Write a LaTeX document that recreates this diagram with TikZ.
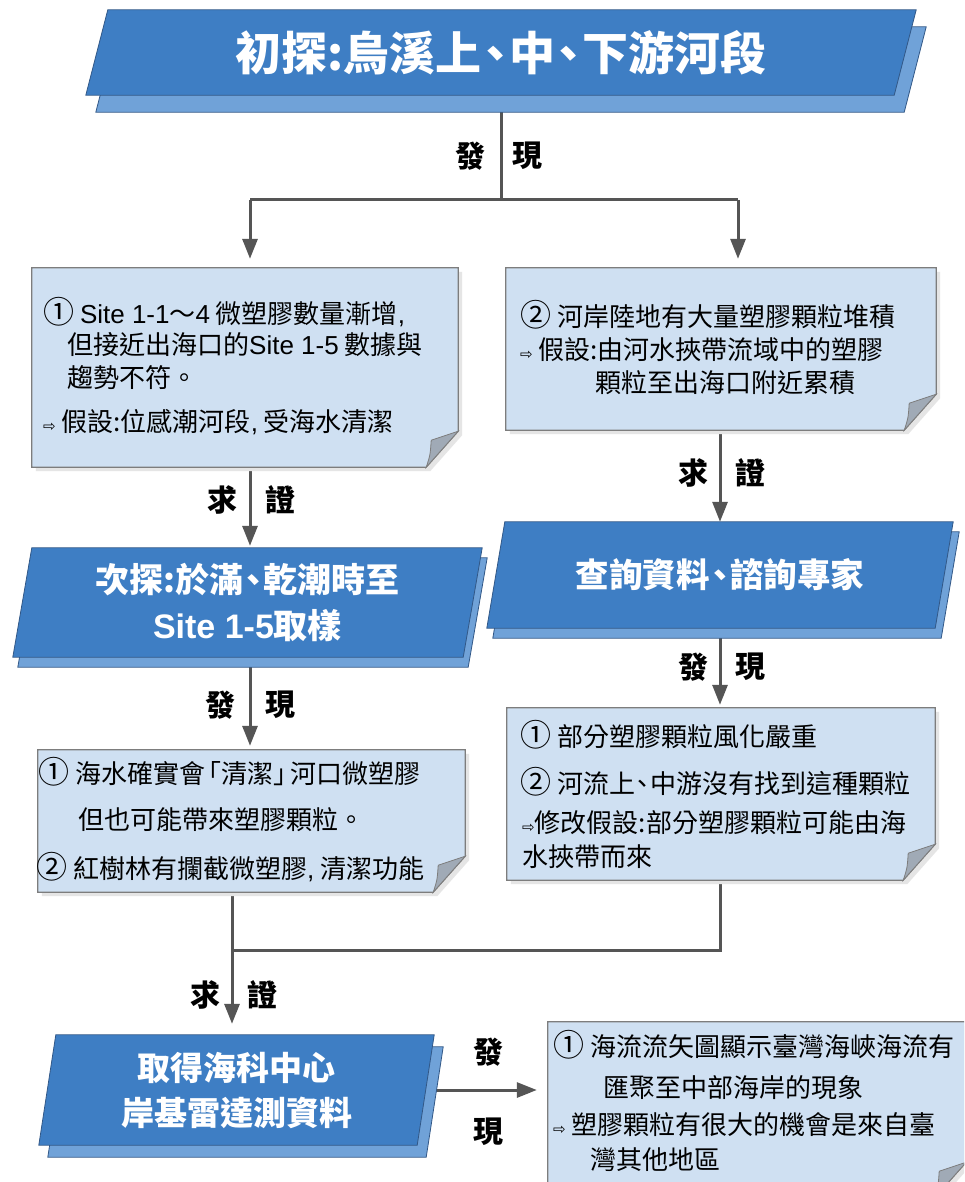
\documentclass[tikz,border=0pt]{standalone}
\usepackage{fontspec}
\setmainfont{Noto Sans CJK TC}
\newfontfamily\lat{Liberation Sans}
\newfontfamily\djv{DejaVu Sans}
\usetikzlibrary{arrows.meta,calc}
\pgfdeclarelayer{bg}\pgfdeclarelayer{shp}
\pgfsetlayers{bg,shp,main}
\definecolor{bannerblue}{RGB}{62,126,196}
\definecolor{bannershade}{RGB}{112,162,216}
\definecolor{bannerline}{RGB}{50,88,135}
\definecolor{notefill}{RGB}{207,224,242}
\definecolor{noteline}{RGB}{125,125,125}
\definecolor{arrowgray}{RGB}{85,85,85}
\definecolor{foldgray}{RGB}{160,170,182}
\newcommand\hint{{\djv\fontsize{15pt}{15pt}\selectfont ⇨}}
\newcommand\cnum[1]{{\fontsize{31pt}{30pt}\selectfont #1}}
\newcommand\dun{\kern-0.2em、\kern-0.2em}
\newcommand\bannerbg[4]{%
\begin{pgfonlayer}{shp}
\path[bshade] ($(#1.north west)+(#2/2+#3,#4)$) -- ($(#1.north east)+(#2/2+#3,#4)$) -- ($(#1.south east)+(-#2/2+#3,#4)$) -- ($(#1.south west)+(-#2/2+#3,#4)$) -- cycle;
\path[bmain] ($(#1.north west)+(#2/2,0)$) -- ($(#1.north east)+(#2/2,0)$) -- ($(#1.south east)+(-#2/2,0)$) -- ($(#1.south west)+(-#2/2,0)$) -- cycle;
\end{pgfonlayer}}
\newcommand\notebg[1]{%
\begin{pgfonlayer}{shp}
\begin{scope}
\clip (0,0) rectangle (964,1182);
\path[nshadow] ($(#1.north west)+(4,4)$) -- ($(#1.north east)+(4,4)$) -- ($(#1.south east)+(4,-32)$) -- ($(#1.south east)+(-28,4)$) -- ($(#1.south west)+(4,4)$) -- cycle;
\path[nbox] (#1.north west) -- (#1.north east) -- ($(#1.south east)+(0,-36)$) -- ($(#1.south east)+(-32,0)$) -- (#1.south west) -- cycle;
\path[nfold] ($(#1.south east)+(-32,0)$) .. controls ($(#1.south east)+(-28,-12)$) .. ($(#1.south east)+(-27,-27)$) -- ($(#1.south east)+(0,-36)$) -- cycle;
\end{scope}
\end{pgfonlayer}}
\begin{document}
\begin{tikzpicture}[x=1pt,y=-1pt,
  banner/.style={inner sep=0pt, align=center, text=white, font=\bfseries\fontsize{34pt}{46pt}\selectfont},
  hole/.style={inner sep=0pt, draw=none},
  nt/.style={anchor=west, inner sep=0pt, font=\fontsize{26pt}{30pt}\selectfont},
  lbl/.style={inner sep=0pt, font=\bfseries\fontsize{30pt}{30pt}\selectfont},
  conn/.style={draw=arrowgray, line width=3pt},
  arr/.style={conn, -{Triangle[length=20pt,width=15pt]}},
  bmain/.style={fill=bannerblue, draw=bannerline, line width=0.8pt},
  bshade/.style={fill=bannershade, draw=bannerline, line width=0.8pt},
  nbox/.style={fill=notefill, draw=noteline, line width=1.2pt},
  nfold/.style={fill=foldgray, draw=noteline, line width=0.8pt},
  nshadow/.style={fill=black!10}]
\useasboundingbox (0,0) rectangle (964,1182);
\begin{pgfonlayer}{bg}
\fill[white] (0,0) rectangle (964,1182);
\end{pgfonlayer}

% banners
\node[banner, font=\bfseries\fontsize{46pt}{48pt}\selectfont, minimum width=808pt, minimum height=85pt] (b1) at (501,52.5) {初探:烏溪上\dun 中\dun 下游河段};
\bannerbg{b1}{22}{10}{17}
\node[banner, minimum width=450pt, minimum height=109pt] (b2) at (247.5,602.5) {次探:於滿\dun 乾潮時至\\{\lat Site 1-5}取樣};
\bannerbg{b2}{19}{5}{10}
\node[banner, font=\bfseries\fontsize{33.5pt}{46pt}\selectfont, minimum width=448pt, minimum height=106pt] (b3) at (720,575) {查詢資料\dun 諮詢專家};
\bannerbg{b3}{18}{6}{10}
\node[banner, font=\bfseries\fontsize{33pt}{45pt}\selectfont, minimum width=378pt, minimum height=110pt] (b4) at (236.5,1090) {取得海科中心\\岸基雷達測資料};
\bannerbg{b4}{17}{9}{12}

% note boxes
\node[hole, minimum width=426pt, minimum height=199pt] (n1) at (245,367.5) {};
\notebg{n1}
\node[hole, minimum width=430pt, minimum height=162pt] (n2) at (721,349) {};
\notebg{n2}
\node[hole, minimum width=427pt, minimum height=142pt] (n3) at (251.5,821) {};
\notebg{n3}
\node[hole, minimum width=428pt, minimum height=172pt] (n4) at (721,794) {};
\notebg{n4}
\node[hole, minimum width=418pt, minimum height=176pt] (n5) at (757,1110) {};
\notebg{n5}

% note texts
\node[nt] (n1a) at (43,312) {\cnum{①} {\lat Site 1-1}～{\lat 4} 微塑膠數量漸增{\lat ,}};
\node[nt] (n1b) at (67,345) {但接近出海口的{\lat Site 1-5} 數據與};
\node[nt] (n1c) at (67,378) {趨勢不符。};
\node[nt] (n1d) at (43,422) {\hint\ 假設:位感潮河段{\lat ,} 受海水清潔};

\node[nt] (n2a) at (520,315) {\cnum{②} 河岸陸地有大量塑膠顆粒堆積};
\node[nt] (n2b) at (520,350) {\hint\ 假設:由河水挾帶流域中的塑膠};
\node[nt] (n2c) at (595,383) {顆粒至出海口附近累積};

\node[nt] (n3a) at (38,772) {\cnum{①} 海水確實會\kern-0.35em「清潔」\kern-0.35em 河口微塑膠};
\node[nt] (n3b) at (78,820) {但也可能帶來塑膠顆粒。};
\node[nt] (n3c) at (36,867) {\cnum{②} 紅樹林有攔截微塑膠{\lat ,} 清潔功能};

\node[nt] (n4a) at (520,735) {\cnum{①} 部分塑膠顆粒風化嚴重};
\node[nt] (n4b) at (520,782) {\cnum{②} 河流上\dun 中游沒有找到這種顆粒};
\node[nt] (n4c) at (522,823) {\hint 修改假設:部分塑膠顆粒可能由海};
\node[nt] (n4d) at (522,857) {水挾帶而來};

\node[nt] (n5a) at (553,1045) {\cnum{①} 海流流矢圖顯示臺灣海峽海流有};
\node[nt] (n5b) at (603,1088) {匯聚至中部海岸的現象};
\node[nt] (n5c) at (553,1125) {\hint\ 塑膠顆粒有很大的機會是來自臺};
\node[nt] (n5d) at (590,1160) {灣其他地區};

% labels
\node[lbl] (l1a) at (470,156) {發};
\node[lbl] (l1b) at (527,156) {現};
\node[lbl] (l2a) at (222,500) {求};
\node[lbl] (l2b) at (280,500) {證};
\node[lbl] (l3a) at (693,473) {求};
\node[lbl] (l3b) at (750,473) {證};
\node[lbl] (l4a) at (220,705) {發};
\node[lbl] (l4b) at (280,705) {現};
\node[lbl] (l5a) at (693,667) {發};
\node[lbl] (l5b) at (750,667) {現};
\node[lbl] (l6a) at (205,995) {求};
\node[lbl] (l6b) at (262,995) {證};
\node[lbl] (l7a) at (488,1052) {發};
\node[lbl] (l7b) at (488,1132) {現};

% connectors
\begin{pgfonlayer}{bg}
\coordinate (jl) at (250,200);
\coordinate (jr) at (738,200);
\coordinate (cl) at (250,0);
\coordinate (cr) at (720,0);
\coordinate (ml) at (232,950);
\coordinate (mr) at (720,950);
\draw[conn] (b1.south) -- (b1.south |- jl);
\draw[conn] (jl) -- (jr);
\draw[arr, shorten >=9pt] (jl) -- (jl |- n1.north);
\draw[arr, shorten >=9pt] (jr) -- (jr |- n2.north);
\draw[arr, shorten >=2pt] (cl |- n1.south) -- (cl |- b2.north);
\draw[arr, shorten >=4pt] (cl |- b2.south) -- (cl |- n3.north);
\draw[arr] (cr |- n2.south) -- (cr |- b3.north);
\draw[arr, shorten >=3pt] (cr |- b3.south) -- (cr |- n4.north);
\draw[conn] (mr |- n4.south) -- (mr) -- (ml);
\draw[arr, shorten >=11pt] (ml |- n3.south) -- (ml |- b4.north);
\draw[arr, shorten >=11pt] (b4.east) -- (n5.west |- b4.east);
\end{pgfonlayer}
\end{tikzpicture}
\end{document}
